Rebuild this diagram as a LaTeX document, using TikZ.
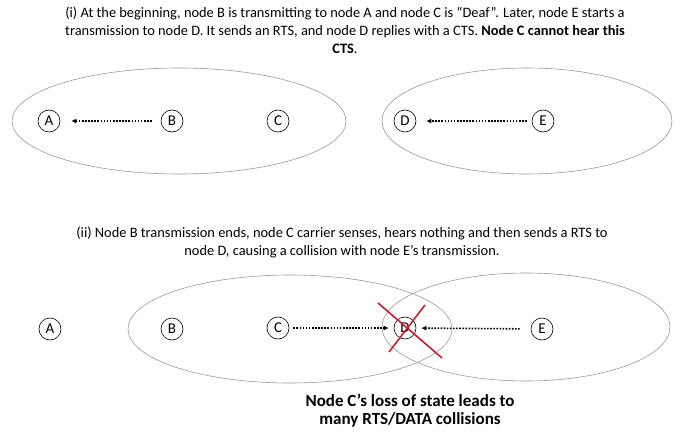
\documentclass[tikz,border=0pt]{standalone}
\usepackage{fontspec}
\setmainfont{Carlito}
\usepackage{tikz}
\usetikzlibrary{arrows.meta}

\tikzset{
  nd/.style={circle,draw,line width=0.6pt,inner sep=0pt,minimum size=22pt,font=\fontsize{15}{16}\selectfont},
  radiorange/.style={draw=gray!80,line width=0.6pt},
  rtsarrow/.style={line width=1.6pt,dash pattern=on 1.6pt off 1.5pt,-{Latex[length=5pt,width=5pt]}},
  caption/.style={align=center,font=\fontsize{14.4}{18}\selectfont},
  cross/.style={draw={rgb,255:red,200;green,30;blue,50},line width=1.6pt}
}

\begin{document}
\begin{tikzpicture}[x=1pt,y=-1pt]
\useasboundingbox (0,0) rectangle (683,433);

% (i) first situation
\node[caption] (capone) at (345,30) {(i) At the beginning, node B is transmitting to node A and node C is “Deaf”. Later, node E starts a\\
transmission to node D. It sends an RTS, and node D replies with a CTS. \textbf{Node C cannot hear this}\\
\textbf{CTS}.};

\draw[radiorange] (179,121) ellipse (167 and 53);
\draw[radiorange] (527,121) ellipse (145 and 53);

\node[nd] (a1) at (49,121) {A};
\node[nd] (b1) at (172,121) {B};
\node[nd] (c1) at (278,121) {C};
\node[nd] (d1) at (405,121) {D};
\node[nd] (e1) at (543,121) {E};

\draw[rtsarrow,shorten <=9pt,shorten >=11pt] (b1) -- (a1);
\draw[rtsarrow,shorten <=5pt,shorten >=10pt] (e1) -- (d1);

% (ii) collision
\node[caption] (captwo) at (342,242) {(ii) Node B transmission ends, node C carrier senses, hears nothing and then sends a RTS to\\
node D, causing a collision with node E’s transmission.};

\draw[radiorange] (290,329) ellipse (162 and 54);
\draw[radiorange] (526,327) ellipse (144 and 54);

\node[nd] (a2) at (50,329) {A};
\node[nd] (b2) at (172,329) {B};
\node[nd] (c2) at (278,328) {C};
\node[nd] (d2) at (405,328) {D};
\node[nd] (e2) at (542,329) {E};

\draw[rtsarrow,shorten <=4pt,shorten >=5pt] (c2) -- (d2);
\draw[rtsarrow,shorten <=11pt,shorten >=5pt] (e2) -- (d2);

% red cross on D
\draw[cross] (378,303) -- (442,358);
\draw[cross] (425,305) -- (389,352);

\node[caption,font=\fontsize{17}{18}\selectfont\bfseries] (loss) at (410,411) {Node C’s loss of state leads to\\many RTS/DATA collisions};
\end{tikzpicture}
\end{document}
